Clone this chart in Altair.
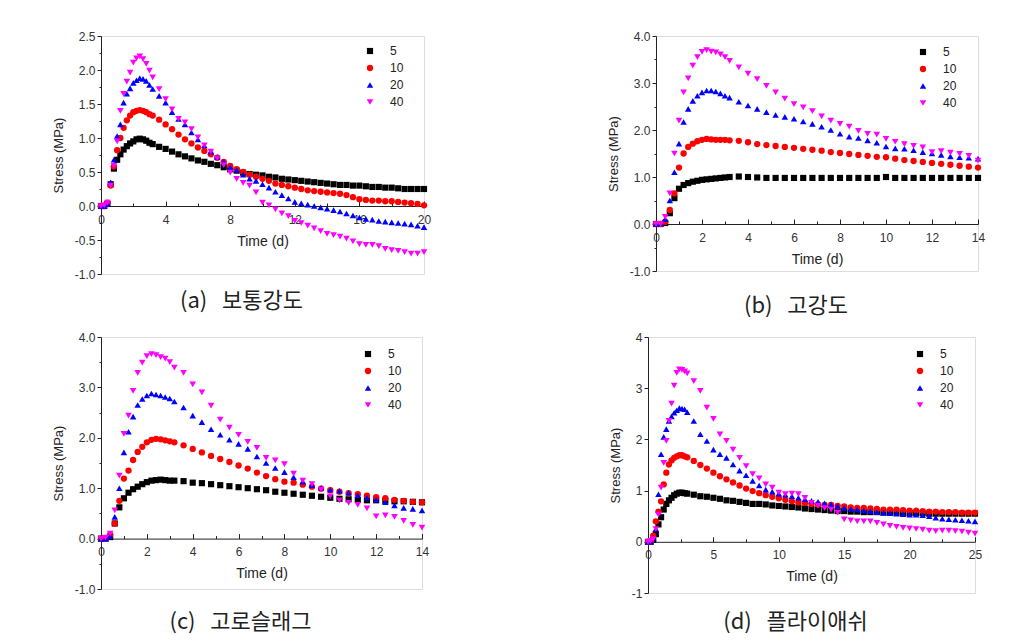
import altair as alt
import pandas as pd

SERIES = ["5", "10", "20", "40"]
COLORS = ["#000000", "#ff0000", "#0000ff", "#ff00ff"]
SHAPES = ["square", "circle", "triangle-up", "triangle-down"]
SIZES = [38, 44, 68, 68]
NB = "\u00a0"
CAPTIONS = ["(a)" + NB * 3 + "보통강도", "(b)" + NB * 3 + "고강도",
            "(c)" + NB * 3 + "고로슬래그", "(d)" + NB * 3 + "플라이애쉬"]

# ---------------- panel (a) ----------------
T_A = [0, 0.2, 0.4, 0.6, 0.8, 1.0, 1.2, 1.4, 1.6, 1.8, 2.0, 2.2, 2.4, 2.6, 2.8, 3.0,
       3.2, 3.6, 4.0, 4.4, 4.8, 5.2, 5.6, 6.0, 6.4, 6.8, 7.2, 7.6, 8.0, 8.4, 8.8, 9.2, 9.6,
       10.0, 10.4, 10.8, 11.2, 11.6, 12.0, 12.4, 12.8, 13.2, 13.6, 14.0, 14.4, 14.8, 15.2, 15.6,
       16.0, 16.4, 16.8, 17.2, 17.6, 18.0, 18.4, 18.8, 19.2, 19.6, 20.0]
A_5 = [0, 0, 0.03, 0.32, 0.55, 0.68, 0.76, 0.83, 0.88, 0.92, 0.95, 0.98, 0.99, 0.98, 0.96, 0.93,
       0.91, 0.87, 0.84, 0.80, 0.76, 0.73, 0.70, 0.67, 0.65, 0.62, 0.60, 0.57, 0.54, 0.52, 0.49, 0.47, 0.46,
       0.45, 0.43, 0.42, 0.40, 0.39, 0.38, 0.37, 0.36, 0.35, 0.34, 0.33, 0.32, 0.31, 0.31, 0.30,
       0.30, 0.29, 0.28, 0.28, 0.27, 0.27, 0.26, 0.25, 0.25, 0.25, 0.25]
A_10 = [0, 0, 0.05, 0.30, 0.58, 0.82, 1.00, 1.15, 1.26, 1.33, 1.38, 1.40, 1.41, 1.40, 1.38, 1.35,
        1.33, 1.27, 1.20, 1.13, 1.05, 0.98, 0.92, 0.86, 0.81, 0.76, 0.71, 0.65, 0.59, 0.54, 0.50, 0.46, 0.43,
        0.40, 0.37, 0.33, 0.31, 0.29, 0.27, 0.25, 0.23, 0.22, 0.21, 0.20, 0.19, 0.18, 0.16, 0.13,
        0.10, 0.09, 0.08, 0.08, 0.07, 0.07, 0.06, 0.05, 0.04, 0.03, 0.01]
A_20 = [0, 0, 0.03, 0.35, 0.68, 1.03, 1.20, 1.52, 1.65, 1.73, 1.81, 1.85, 1.88, 1.87, 1.84, 1.78,
        1.72, 1.62, 1.52, 1.38, 1.28, 1.20, 1.08, 0.98, 0.89, 0.80, 0.72, 0.65, 0.57, 0.53, 0.46, 0.40, 0.37,
        0.32, 0.27, 0.21, 0.16, 0.11, 0.06, 0.04, 0.02, 0.00, -0.02, -0.04, -0.06, -0.08, -0.11, -0.14,
        -0.17, -0.19, -0.20, -0.22, -0.23, -0.24, -0.25, -0.26, -0.27, -0.29, -0.31]
A_40 = [0, 0.01, 0.05, 0.30, 0.59, 0.95, 1.40, 1.65, 1.83, 1.96, 2.11, 2.17, 2.20, 2.16, 2.09, 1.99,
        1.89, 1.72, 1.57, 1.42, 1.28, 1.23, 1.13, 1.01, 0.89, 0.80, 0.70, 0.60, 0.49, 0.40, 0.34, 0.30, 0.20,
        0.05, 0.01, -0.05, -0.11, -0.15, -0.22, -0.25, -0.29, -0.33, -0.37, -0.41, -0.43, -0.45, -0.48, -0.52,
        -0.56, -0.57, -0.57, -0.59, -0.63, -0.65, -0.66, -0.68, -0.70, -0.70, -0.68]

# ---------------- panels (b) and (c) ----------------
T_BC = [0, 0.2, 0.4, 0.6, 0.8, 1.0, 1.2, 1.4, 1.6, 1.8, 2.0, 2.2, 2.4, 2.6, 2.8, 3.0,
        3.2, 3.6, 4.0, 4.4, 4.8, 5.2, 5.6, 6.0, 6.4, 6.8, 7.2, 7.6, 8.0, 8.4,
        8.8, 9.2, 9.6, 10.0, 10.4, 10.8, 11.2, 11.6, 12.0, 12.4, 12.8, 13.2, 13.6, 14.0]
B_5 = [0, 0, 0.02, 0.23, 0.55, 0.75, 0.83, 0.87, 0.90, 0.92, 0.94, 0.95, 0.96, 0.97, 0.98, 0.99,
       1.00, 1.01, 1.00, 0.99, 0.98, 0.98, 0.98, 0.98, 0.98, 0.98, 0.98, 0.98, 0.98, 0.98,
       0.98, 0.98, 0.98, 1.00, 0.98, 0.98, 0.98, 0.98, 0.98, 0.98, 0.98, 0.98, 0.98, 0.98]
B_10 = [0, 0, 0.05, 0.30, 0.65, 1.20, 1.50, 1.64, 1.71, 1.76, 1.79, 1.81, 1.80, 1.79, 1.79, 1.79,
        1.78, 1.77, 1.74, 1.70, 1.68, 1.66, 1.64, 1.62, 1.60, 1.58, 1.56, 1.53, 1.51, 1.49,
        1.47, 1.45, 1.43, 1.42, 1.39, 1.36, 1.34, 1.32, 1.30, 1.28, 1.26, 1.24, 1.22, 1.20]
B_20 = [0, 0.01, 0.10, 0.50, 1.10, 1.71, 2.17, 2.45, 2.62, 2.73, 2.80, 2.84, 2.84, 2.82, 2.78, 2.73,
        2.69, 2.60, 2.52, 2.45, 2.38, 2.32, 2.28, 2.24, 2.18, 2.13, 2.07, 2.00, 1.92, 1.86,
        1.83, 1.78, 1.73, 1.65, 1.61, 1.60, 1.57, 1.53, 1.50, 1.47, 1.44, 1.42, 1.41, 1.39]
B_40 = [0, 0, 0.15, 0.65, 1.50, 2.20, 2.80, 3.10, 3.37, 3.55, 3.66, 3.70, 3.67, 3.65, 3.61, 3.55,
        3.47, 3.33, 3.20, 3.08, 2.94, 2.80, 2.67, 2.55, 2.48, 2.40, 2.29, 2.20, 2.13, 2.07,
        1.98, 1.92, 1.90, 1.81, 1.75, 1.70, 1.66, 1.63, 1.53, 1.55, 1.52, 1.49, 1.45, 1.35]
C_5 = [0, 0, 0.03, 0.30, 0.62, 0.80, 0.91, 0.98, 1.03, 1.08, 1.12, 1.15, 1.16, 1.17, 1.16, 1.15,
       1.15, 1.14, 1.11, 1.10, 1.08, 1.06, 1.04, 1.02, 1.00, 0.98, 0.96, 0.93, 0.91, 0.89,
       0.87, 0.85, 0.83, 0.81, 0.79, 0.78, 0.77, 0.76, 0.76, 0.75, 0.74, 0.74, 0.73, 0.72]
C_10 = [0, 0, 0.08, 0.30, 0.75, 1.19, 1.35, 1.56, 1.72, 1.82, 1.91, 1.96, 1.98, 1.97, 1.95, 1.93,
        1.91, 1.85, 1.78, 1.71, 1.64, 1.58, 1.52, 1.45, 1.39, 1.31, 1.24, 1.18, 1.13, 1.11,
        1.07, 1.03, 0.99, 0.96, 0.93, 0.90, 0.88, 0.85, 0.82, 0.80, 0.77, 0.75, 0.73, 0.72]
C_20 = [0, 0, 0.05, 0.43, 1.00, 1.71, 2.12, 2.42, 2.65, 2.77, 2.84, 2.88, 2.86, 2.84, 2.81, 2.78,
        2.72, 2.60, 2.44, 2.31, 2.17, 2.06, 1.96, 1.88, 1.78, 1.63, 1.50, 1.40, 1.32, 1.22,
        1.13, 1.06, 1.01, 0.97, 0.95, 0.91, 0.86, 0.81, 0.77, 0.72, 0.66, 0.61, 0.59, 0.56]
C_40 = [0, 0.02, 0.10, 0.56, 1.25, 2.08, 2.44, 2.93, 3.29, 3.49, 3.62, 3.66, 3.64, 3.60, 3.57, 3.50,
        3.39, 3.29, 3.06, 2.90, 2.64, 2.36, 2.20, 2.06, 1.92, 1.80, 1.60, 1.55, 1.48, 1.29,
        1.15, 1.08, 0.97, 0.84, 0.76, 0.71, 0.67, 0.60, 0.44, 0.46, 0.43, 0.35, 0.27, 0.22]

# ---------------- panel (d) ----------------
T_D = [0, 0.2, 0.4, 0.6, 0.8, 1.0, 1.2, 1.4, 1.6, 1.8, 2.0, 2.2, 2.4, 2.6, 2.8, 3.0,
       3.5, 4.0, 4.5, 5.0, 5.5, 6.0, 6.5, 7.0, 7.5, 8.0, 8.5, 9.0, 9.5, 10.0, 10.5, 11.0, 11.5,
       12.0, 12.5, 13.0, 13.5, 14.0, 14.5,
       15.0, 15.5, 16.0, 16.5, 17.0, 17.5, 18.0, 18.5, 19.0, 19.5, 20.0, 20.5, 21.0, 21.5, 22.0,
       22.5, 23.0, 23.5, 24.0, 24.5, 25.0]
D_5 = [0, 0, 0.04, 0.15, 0.34, 0.48, 0.63, 0.74, 0.81, 0.86, 0.91, 0.94, 0.96, 0.96, 0.95, 0.94,
       0.92, 0.89, 0.88, 0.86, 0.84, 0.81, 0.80, 0.78, 0.76, 0.74, 0.74, 0.73, 0.71, 0.70, 0.69, 0.68, 0.67,
       0.65, 0.64, 0.63, 0.62, 0.61, 0.60,
       0.60, 0.59, 0.59, 0.58, 0.58, 0.58, 0.57, 0.57, 0.57, 0.56, 0.56, 0.56, 0.56, 0.55, 0.55,
       0.55, 0.55, 0.55, 0.55, 0.55, 0.55]
D_10 = [0, 0, 0.12, 0.40, 0.59, 0.79, 1.12, 1.35, 1.51, 1.59, 1.64, 1.67, 1.69, 1.69, 1.67, 1.65,
        1.58, 1.50, 1.43, 1.35, 1.28, 1.22, 1.16, 1.10, 1.04, 0.99, 0.95, 0.91, 0.88, 0.85, 0.82, 0.79, 0.77,
        0.76, 0.74, 0.73, 0.72, 0.72, 0.70,
        0.69, 0.67, 0.66, 0.66, 0.65, 0.64, 0.63, 0.63, 0.63, 0.62, 0.61, 0.61, 0.60, 0.59, 0.59,
        0.58, 0.58, 0.58, 0.57, 0.57, 0.57]
D_20 = [0, 0, 0.08, 0.25, 0.93, 1.71, 2.05, 2.20, 2.36, 2.45, 2.52, 2.57, 2.61, 2.60, 2.59, 2.53,
        2.36, 2.10, 1.97, 1.80, 1.71, 1.64, 1.51, 1.39, 1.30, 1.19, 1.10, 1.02, 0.98, 0.94, 0.92, 0.89, 0.86,
        0.83, 0.80, 0.78, 0.75, 0.73, 0.70,
        0.66, 0.64, 0.63, 0.61, 0.60, 0.58, 0.57, 0.56, 0.55, 0.54, 0.53, 0.53, 0.52, 0.50, 0.47,
        0.45, 0.44, 0.43, 0.42, 0.41, 0.40]
D_40 = [0, 0.02, 0.05, 0.25, 0.53, 1.06, 1.54, 1.97, 2.36, 2.70, 3.05, 3.30, 3.37, 3.36, 3.33, 3.29,
        3.14, 2.95, 2.62, 2.40, 2.10, 1.97, 1.80, 1.64, 1.48, 1.32, 1.24, 1.12, 1.06, 0.96, 0.93, 0.94, 0.93,
        0.86, 0.76, 0.70, 0.66, 0.63, 0.57,
        0.44, 0.42, 0.40, 0.40, 0.40, 0.37, 0.34, 0.31, 0.29, 0.27, 0.26, 0.25, 0.24, 0.22, 0.21,
        0.22, 0.22, 0.21, 0.20, 0.18, 0.16]

# ---------------- axis tick values ----------------
XT_A, XM_A = [0, 4, 8, 12, 16, 20], [2, 6, 10, 14, 18]
XT_BC, XM_BC = [0, 2, 4, 6, 8, 10, 12, 14], [1, 3, 5, 7, 9, 11, 13]
XT_D, XM_D = [0, 5, 10, 15, 20, 25], [2.5, 7.5, 12.5, 17.5, 22.5]
YT_A = [-1.0, -0.5, 0.0, 0.5, 1.0, 1.5, 2.0, 2.5]
YM_A = [-0.75, -0.25, 0.25, 0.75, 1.25, 1.75, 2.25]
YT_B = [-1, 0, 1, 2, 3, 4]
YM_B = [-0.5, 0.5, 1.5, 2.5, 3.5]

FONT = "Liberation Sans"
AXC = "#222222"
LBLC = "#333333"


def major_test(step):
    return f"abs(datum.value / {step} - round(datum.value / {step})) < 0.001"


def panel(cap, times, vals, w, h, xdom, xmaj, xmin_, xstep, ydom, ymaj, ymin_, ystep,
          yfmt, legxy, capoff):
    rows = []
    for k, (s, v) in enumerate(zip(SERIES, vals)):
        assert len(v) == len(times), (cap, s, len(v), len(times))
        for t, y in zip(times, v):
            rows.append({"t": t, "stress": y, "series": s, "k": k})
    df = pd.DataFrame(rows)
    z_bottom = h * (0 - ydom[0]) / (ydom[1] - ydom[0])
    z_top = h - z_bottom
    xs = alt.Scale(domain=xdom, nice=False, zero=False)
    ys = alt.Scale(domain=ydom, nice=False, zero=False)
    leg = alt.Legend(title=None, orient="none", legendX=legxy[0], legendY=legxy[1],
                     labelFont=FONT, labelFontSize=12, labelColor="#222222",
                     symbolSize=42, rowPadding=5, labelOffset=14, padding=0,
                     symbolStrokeWidth=0)
    ytest = major_test(ystep)
    pts = alt.Chart(df).mark_point(filled=True, opacity=1, strokeWidth=0).encode(
        x=alt.X("t:Q", scale=xs, axis=alt.Axis(
            orient="bottom", offset=-z_bottom, values=xmaj, ticks=False,
            labelPadding=8, labelFlush=False, labelOverlap=False, grid=False,
            domainColor=AXC, domainWidth=1, labelColor=LBLC, labelFont=FONT,
            labelFontSize=12, title="Time (d)", titleFont=FONT, titleFontSize=14,
            titleFontWeight="normal", titleColor="#222222", titlePadding=9)),
        y=alt.Y("stress:Q", scale=ys, axis=alt.Axis(
            values=ymaj + ymin_, format=yfmt,
            labelExpr=f"({ytest}) ? replace(datum.label, '\u2212', '-') : ''",
            tickSize={"condition": {"test": ytest, "value": 4}, "value": 2},
            tickColor=AXC, labelPadding=2, labelFlush=False, labelOverlap=False,
            grid=False, domainColor=AXC, domainWidth=1, labelColor=LBLC,
            labelFont=FONT, labelFontSize=12, title="Stress (MPa)", titleFont=FONT,
            titleFontSize=13, titleFontWeight="normal", titleColor="#222222",
            titlePadding=9)),
        color=alt.Color("series:N", scale=alt.Scale(domain=SERIES, range=COLORS), legend=leg),
        shape=alt.Shape("series:N", scale=alt.Scale(domain=SERIES, range=SHAPES), legend=leg),
        size=alt.Size("series:O", scale=alt.Scale(domain=SERIES, range=SIZES), legend=None),
        order=alt.Order("k:Q"),
    )
    xtest = major_test(xstep)
    top_ticks = alt.Chart(df).mark_point(opacity=0).encode(
        x=alt.X("t:Q", scale=xs, axis=alt.Axis(
            orient="top", offset=-z_top, values=xmaj + xmin_, labels=False,
            domain=False, grid=False, title=None, tickColor=AXC,
            tickSize={"condition": {"test": xtest, "value": 5}, "value": 3})),
    )
    return alt.layer(pts, top_ticks).resolve_axis(x="independent").properties(
        width=w, height=h,
        title=alt.TitleParams(cap, orient="bottom", anchor="middle", frame="bounds",
                              font="Noto Sans CJK KR", fontSize=22, fontWeight="normal",
                              color="#222222", offset=capoff))


pa = panel(CAPTIONS[0], T_A, [A_5, A_10, A_20, A_40], 323, 238, [0, 20], XT_A, XM_A, 4,
           [-1, 2.5], YT_A, YM_A, 0.5, ".1f", (263, 9), 11)
pb = panel(CAPTIONS[1], T_BC, [B_5, B_10, B_20, B_40], 322, 235, [0, 14], XT_BC, XM_BC, 2,
           [-1, 4], YT_B, YM_B, 1, ".1f", (261, 10), 19)
pc = panel(CAPTIONS[2], T_BC, [C_5, C_10, C_20, C_40], 321, 252, [0, 14], XT_BC, XM_BC, 2,
           [-1, 4], YT_B, YM_B, 1, ".1f", (261, 11), 17)
pd_ = panel(CAPTIONS[3], T_D, [D_5, D_10, D_20, D_40], 327, 256, [0, 25], XT_D, XM_D, 5,
            [-1, 4], YT_B, YM_B, 1, "d", (266, 11), 13)


def indep(c):
    return c.resolve_scale(color="independent", shape="independent", size="independent") \
            .resolve_legend(color="independent", shape="independent", size="independent")


row1 = indep(alt.hconcat(pa, pb, spacing=174))
row2 = indep(alt.hconcat(pc, pd_, spacing=178))
chart = indep(alt.vconcat(row1, row2, spacing=12)).properties(
    padding={"left": 43, "top": 21, "right": 0, "bottom": 0}
).configure_view(stroke=None).configure(background="white")

chart.save("out.html", embed_options={"renderer": "svg", "actions": False})
